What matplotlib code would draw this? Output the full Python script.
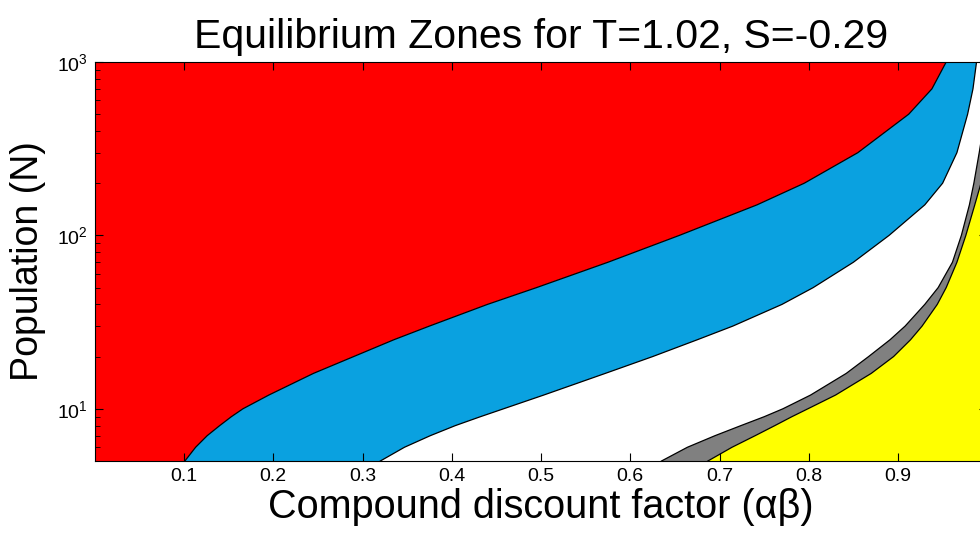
import numpy as np
import matplotlib.pyplot as plt
from matplotlib.ticker import FixedLocator, LogLocator, LogFormatterSciNotation, NullFormatter

plt.rcParams['font.family'] = ['Liberation Sans', 'DejaVu Sans']
plt.rcParams['mathtext.fontset'] = 'custom'
plt.rcParams['mathtext.rm'] = 'Liberation Sans'
plt.rcParams['mathtext.it'] = 'Liberation Sans:italic'

# zone borders: discount factor (x) at given population N
n_red = [5, 6, 7, 8, 9, 10, 12, 16, 20, 25, 30, 40, 50, 70, 100, 150, 200, 300, 500, 700, 1000]
x_red = [0.101, 0.113, 0.126, 0.140, 0.153, 0.166, 0.195, 0.245, 0.290, 0.335, 0.375,
         0.440, 0.495, 0.575, 0.655, 0.742, 0.795, 0.855, 0.912, 0.938, 0.954]

n_blue = [5, 6, 7, 8, 9, 10, 12, 16, 20, 25, 30, 40, 50, 70, 100, 150, 200, 300, 500, 700, 1000]
x_blue = [0.320, 0.347, 0.376, 0.404, 0.432, 0.458, 0.503, 0.572, 0.625, 0.675, 0.715,
          0.770, 0.805, 0.850, 0.890, 0.930, 0.950, 0.966, 0.978, 0.984, 0.988]

n_gray = [5, 6, 7, 8, 9, 10, 12, 16, 20, 25, 30, 40, 50, 70, 100, 150, 200, 300, 500, 1000]
x_gray = [0.635, 0.664, 0.695, 0.724, 0.750, 0.771, 0.802, 0.842, 0.867, 0.891, 0.908,
          0.930, 0.945, 0.961, 0.971, 0.980, 0.985, 0.991, 0.998, 1.01]

n_yellow = [5, 6, 7, 8, 9, 10, 12, 16, 20, 25, 30, 40, 50, 70, 100, 150, 200, 400, 1000]
x_yellow = [0.687, 0.714, 0.740, 0.762, 0.781, 0.799, 0.830, 0.870, 0.895, 0.914, 0.927,
            0.944, 0.954, 0.966, 0.976, 0.986, 0.993, 1.0, 1.02]

x_ticks = [0.1, 0.2, 0.3, 0.4, 0.5, 0.6, 0.7, 0.8, 0.9]

fig = plt.figure(figsize=(9.8, 5.33), dpi=100)
ax = fig.add_axes([94.75 / 980, 1 - 461 / 533, 892.5 / 980, 399 / 533])


def zone(ax, n_left, x_left, n_right, x_right, color):
    # polygon between two borders, left one going up, right one coming down
    xs = list(x_left) + list(x_right)[::-1]
    ns = list(n_left) + list(n_right)[::-1]
    ax.fill(xs, ns, color=color, lw=0, zorder=1)


zone(ax, [5, 1000], [0, 0], n_red, x_red, '#ff0000')
zone(ax, n_red, x_red, n_blue, x_blue, '#0aa1e0')
zone(ax, n_gray, x_gray, n_yellow, x_yellow, '#808080')
zone(ax, n_yellow, x_yellow, [5, 1000], [1.05, 1.05], '#ffff00')

for n, x in [(n_red, x_red), (n_blue, x_blue), (n_gray, x_gray), (n_yellow, x_yellow)]:
    ax.plot(x, n, color='black', lw=0.9, zorder=2)

ax.set_yscale('log')
ax.set_xlim(0, 1)
ax.set_ylim(5, 1000)
ax.xaxis.set_major_locator(FixedLocator(x_ticks))
ax.yaxis.set_major_locator(LogLocator(base=10))
ax.yaxis.set_minor_locator(LogLocator(base=10, subs=np.arange(2, 10)))
ax.yaxis.set_major_formatter(LogFormatterSciNotation())
ax.yaxis.set_minor_formatter(NullFormatter())
ax.tick_params(which='both', direction='in', top=True, right=True, labelsize=14, pad=5)
ax.tick_params(which='major', length=6, width=0.8)
ax.tick_params(which='minor', length=3.5, width=0.6)
for s in ax.spines.values():
    s.set_zorder(3)

ax.set_title('Equilibrium Zones for T=1.02, S=-0.29', fontsize=29.5, pad=10)
ax.set_xlabel('Compound discount factor (αβ)', fontsize=28.5, labelpad=2)
ax.set_ylabel('Population (N)', fontsize=27, labelpad=8)

fig.savefig('out.png', dpi=100)
